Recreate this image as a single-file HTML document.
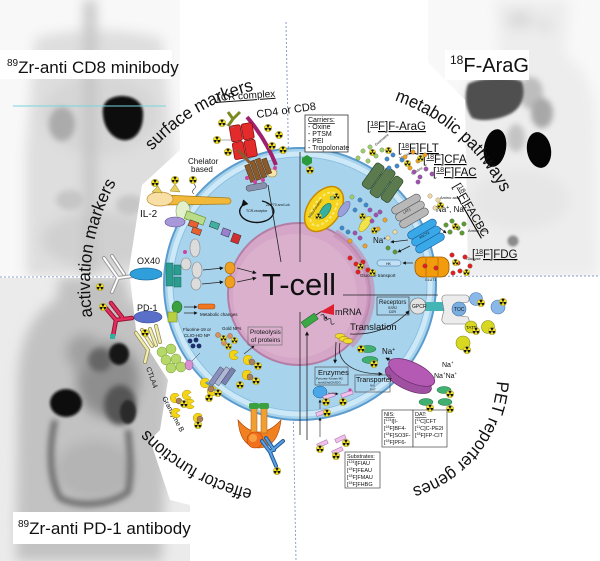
<!DOCTYPE html>
<html><head><meta charset="utf-8"><style>
html,body{margin:0;padding:0;background:#fff;width:600px;height:561px;overflow:hidden}
svg{display:block}
text{font-family:"Liberation Sans",Arial,sans-serif;fill:#111}
</style></head><body>
<svg xmlns="http://www.w3.org/2000/svg" width="600" height="561" viewBox="0 0 600 561">
<defs>
<filter id="b1" x="-30%" y="-30%" width="160%" height="160%"><feGaussianBlur stdDeviation="1.2"/></filter>
<filter id="b3" x="-30%" y="-30%" width="160%" height="160%"><feGaussianBlur stdDeviation="3"/></filter>
<filter id="b6" x="-30%" y="-30%" width="160%" height="160%"><feGaussianBlur stdDeviation="6"/></filter>
<clipPath id="cTL"><polygon points="0,0 180,0 180,150 142,185 128,276 0,276"/></clipPath>
<clipPath id="cBL"><polygon points="0,278 130,278 136,330 168,380 160,430 150,440 170,500 190,505 190,561 0,561"/></clipPath>
<clipPath id="cTR"><polygon points="428,0 600,0 600,276 468,276 465,100 428,62"/></clipPath>
<symbol id="r" viewBox="-5 -5 10 10"><circle r="4.8" fill="#f2e01e" stroke="#666" stroke-width=".4"/><path d="M0,0 L4,0 A4,4 0 0,1 2,3.46Z M0,0 L-2,3.46 A4,4 0 0,1 -4,0Z M0,0 L-2,-3.46 A4,4 0 0,1 2,-3.46Z" fill="#111"/><circle r="1.1" fill="#f2e01e"/><circle r=".7" fill="#111"/></symbol>
<symbol id="pac" viewBox="-5 -5 10 10"><path d="M0,0 L4.2,-2.6 A4.9,4.9 0 1,0 4.2,2.6Z" fill="#f5d412" stroke="#9a8000" stroke-width=".4"/></symbol>
<marker id="ah" viewBox="0 0 6 6" refX="5" refY="3" markerWidth="5" markerHeight="5" orient="auto"><path d="M0,0 L6,3 L0,6Z" fill="#111"/></marker>
<path id="pS" d="M152.1,150.8 A199,199 0 0,1 251.9,90.9" fill="none"/>
<path id="pA" d="M92.6,316.9 A210,210 0 0,1 116.3,182.2" fill="none"/>
<path id="pM" d="M394.5,100.4 A188.6,188.6 0 0,1 501.6,192.5" fill="none"/>
<path id="pE" d="M252.5,489.6 A211,211 0 0,1 146.9,429.2" fill="none"/>
<path id="pP" d="M496.8,381.1 A117,117 0 0,1 412.2,487.5" fill="none"/>
</defs>

<!-- top-left PET -->
<g clip-path="url(#cTL)">
<rect x="0" y="0" width="180" height="277" fill="#f8f8f8"/>
<g filter="url(#b6)">
<path d="M35,38 Q95,22 162,38 L174,150 L172,277 L26,277 L26,150Z" fill="#dedede"/>
<ellipse cx="100" cy="115" rx="58" ry="40" fill="#d6d6d6"/>
<ellipse cx="100" cy="240" rx="58" ry="28" fill="#d0d0d0"/>
<rect x="84" y="0" width="12" height="277" fill="#c4c4c4"/>
</g>
<g filter="url(#b3)"><ellipse cx="62" cy="124" rx="13" ry="17" fill="#ababab"/><ellipse cx="70" cy="200" rx="14" ry="10" fill="#c6c6c6"/><ellipse cx="130" cy="205" rx="14" ry="10" fill="#c6c6c6"/></g>
<path d="M108,100 C120,92 142,96 143,112 C144,130 135,142 122,140 C112,138 104,128 103,115 C102,108 104,103 108,100Z" fill="#070707" filter="url(#b1)"/>
</g>
<rect x="0" y="50" width="172" height="29" fill="#fff"/>
<text x="7" y="73" font-size="17"><tspan font-size="10" dy="-7">89</tspan><tspan dy="7">Zr-anti CD8 minibody</tspan></text>
<line x1="13" y1="106" x2="166" y2="106" stroke="#78d4df" stroke-width="1"/>

<!-- bottom-left PET -->
<g clip-path="url(#cBL)">
<rect x="0" y="277" width="200" height="284" fill="#ebebeb"/>
<g filter="url(#b6)">
<path d="M60,277 L125,277 L130,300 Q168,320 170,380 L162,561 L16,561 L18,380 Q20,320 56,300Z" fill="#c2c2c2"/>
<ellipse cx="108" cy="380" rx="32" ry="38" fill="#8e8e8e"/>
<ellipse cx="84" cy="352" rx="18" ry="18" fill="#a0a0a0"/>
<ellipse cx="95" cy="470" rx="40" ry="30" fill="#b4b4b4"/>
</g>
<g filter="url(#b3)">
<ellipse cx="120" cy="405" rx="16" ry="20" fill="#555"/>
<ellipse cx="100" cy="360" rx="12" ry="12" fill="#666"/>
<path d="M55,420 C48,450 50,480 60,498 C80,508 110,505 128,492 C132,470 130,450 128,430" fill="none" stroke="#6a6a6a" stroke-width="6"/>
</g>
<g filter="url(#b1)">
<ellipse cx="66" cy="403" rx="16" ry="14" fill="#0a0a0a"/>
<ellipse cx="119" cy="354" rx="10" ry="11" fill="#151515"/>
<ellipse cx="128" cy="412" rx="8" ry="12" fill="#2a2a2a"/>
</g>
</g>
<rect x="13" y="512" width="185" height="32" fill="#fff"/>
<text x="18" y="534" font-size="17"><tspan font-size="10" dy="-7">89</tspan><tspan dy="7">Zr-anti PD-1 antibody</tspan></text>

<!-- top-right PET -->
<g clip-path="url(#cTR)">
<rect x="428" y="0" width="172" height="277" fill="#f8f8f8"/>
<g filter="url(#b6)">
<path d="M495,0 L570,0 L565,55 Q592,70 596,120 L598,277 L455,277 L458,120 Q462,70 500,55Z" fill="#ededed"/>
<ellipse cx="520" cy="20" rx="14" ry="10" fill="#dcdcdc"/>
<ellipse cx="545" cy="25" rx="8" ry="8" fill="#e0e0e0"/>
<ellipse cx="520" cy="200" rx="50" ry="30" fill="#e6e6e6"/>
</g>
<g filter="url(#b3)">
<ellipse cx="531" cy="93" rx="12" ry="16" fill="#bdbdbd"/>
<ellipse cx="542" cy="113" rx="11" ry="15" fill="#a8a8a8"/>
<ellipse cx="516" cy="138" rx="9" ry="14" fill="#c4c4c4"/>
</g>
<path d="M468,84 C480,77 515,76 522,82 C526,95 522,108 510,114 C498,120 482,122 472,118 C465,108 464,94 468,84Z" fill="#505050" filter="url(#b1)"/>
<ellipse cx="495" cy="148" rx="11" ry="19" transform="rotate(10 495 148)" fill="#050505"/>
<ellipse cx="539" cy="150" rx="12" ry="18" transform="rotate(-10 539 150)" fill="#050505"/>
<circle cx="513" cy="241" r="5.5" fill="#8a8a8a" filter="url(#b1)"/>
</g>
<rect x="445" y="50" width="84" height="30" fill="#fff"/>
<text x="450" y="72" font-size="20"><tspan font-size="12" dy="-8">18</tspan><tspan dy="8">F-AraG</tspan></text>

<!-- dashed quadrant lines -->
<line x1="286" y1="22" x2="296" y2="561" stroke="#8a9cc8" stroke-width="1" stroke-dasharray="2,2"/>
<line x1="0" y1="277" x2="600" y2="276" stroke="#8a9cc8" stroke-width="1" stroke-dasharray="2,2"/>

<!-- curved labels -->
<text font-size="17.5"><textPath href="#pS" textLength="120" lengthAdjust="spacingAndGlyphs">surface markers</textPath></text>
<text font-size="17.5"><textPath href="#pA" textLength="139" lengthAdjust="spacingAndGlyphs">activation markers</textPath></text>
<text font-size="17.5"><textPath href="#pM" textLength="145" lengthAdjust="spacingAndGlyphs">metabolic pathways</textPath></text>
<text font-size="17.5"><textPath href="#pE" textLength="123" lengthAdjust="spacingAndGlyphs">effector functions</textPath></text>
<text font-size="17.5"><textPath href="#pP" textLength="145" lengthAdjust="spacingAndGlyphs">PET reporter genes</textPath></text>

<!-- cell -->
<circle cx="300" cy="284" r="136" fill="#a8d3ec" stroke="#5b9ccf" stroke-width="2"/>
<circle cx="300" cy="284" r="130" fill="none" stroke="#cde8f7" stroke-width="5"/>
<circle cx="300" cy="284" r="127" fill="none" stroke="#86bde0" stroke-width=".8"/>
<circle cx="299" cy="294" r="71" fill="#d5a6c7" stroke="#b37ea5" stroke-width="2"/>
<circle cx="295" cy="296" r="62" fill="#dab0cd"/>
<path d="M335,233 A71,71 0 0,1 350,345" fill="none" stroke="#c590b6" stroke-width="8" opacity=".7"/>
<text x="262" y="295" font-size="31">T-cell</text>

<!-- connector lines -->
<g stroke="#222" stroke-width=".8" fill="none">
<line x1="300" y1="152" x2="300" y2="262"/>
<line x1="268" y1="185" x2="281" y2="262"/>
<line x1="343" y1="295" x2="438" y2="295"/>
<line x1="300" y1="312" x2="300" y2="435"/>
<line x1="307" y1="440" x2="307" y2="332" marker-end="url(#ah)"/>
</g>

<!-- TCR complex -->
<text x="215" y="101" font-size="10" text-decoration="underline" transform="rotate(-4 215 101)">TCR complex</text>
<text x="257" y="118" font-size="11" transform="rotate(-8 257 118)">CD4 or CD8</text>
<path d="M247,117 C258,130 268,145 276,165" fill="none" stroke="#a0206e" stroke-width="4"/>
<ellipse cx="272" cy="173" rx="5" ry="4" fill="#f5e4a8" stroke="#a08040" stroke-width=".6"/>
<g transform="rotate(-10 244 142)" stroke="#8a1010" stroke-width=".8" fill="#e32b2b">
<rect x="232" y="124" width="11" height="16" rx="2"/><rect x="244" y="124" width="11" height="16" rx="2"/>
<rect x="232" y="141" width="11" height="17" rx="2"/><rect x="244" y="141" width="11" height="17" rx="2"/>
</g>
<path d="M228,126 L233,119 L228,112 M233,119 L240,112" stroke="#7a8a20" stroke-width="3" fill="none"/>
<g stroke="#777" stroke-width=".6"><line x1="222" y1="123" x2="234" y2="128"/><line x1="217" y1="140" x2="233" y2="140"/><line x1="228" y1="152" x2="236" y2="150"/></g>
<g fill="#8b5a2b" stroke="#4a2a10" stroke-width=".5" transform="rotate(-20 259 170)">
<rect x="247" y="161" width="5" height="18"/><rect x="253" y="159" width="5" height="20"/><rect x="259" y="159" width="5" height="20"/><rect x="265" y="161" width="5" height="16"/>
</g>
<path d="M238,150 L250,163" stroke="#8b5a2b" stroke-width="3"/>
<g fill="#d040a0"><circle cx="255" cy="182" r="2"/><circle cx="263" cy="180" r="2"/><circle cx="247" cy="178" r="2"/><circle cx="275" cy="168" r="2"/></g>
<rect x="246" y="184" width="21" height="6" rx="3" fill="#8890b0" stroke="#444" stroke-width=".5" transform="rotate(-10 256 187)"/>
<path d="M242,206 A17,11 0 1,0 262,201" fill="none" stroke="#111" stroke-width="1.4" marker-start="url(#ah)"/>
<text x="246" y="212" font-size="3.5">TCR-receptor</text>
<text x="266" y="206" font-size="3.5">ZAP70 and Lck</text>
<text x="188" y="164" font-size="8" fill="#333">Chelator</text>
<text x="191" y="172" font-size="8" fill="#333">based</text>
<path d="M194,184 q3,3 0,5 q-3,3 0,5" fill="none" stroke="#333" stroke-width=".6"/>

<!-- IL-2 -->
<path d="M165,195 L229,198 Q233,201 229,204 L165,205Z" fill="#f2b83a" stroke="#a87a10" stroke-width=".7"/>
<ellipse cx="160" cy="199" rx="13" ry="7" fill="#f8dfa5" stroke="#c09030" stroke-width=".7"/>
<path d="M152,192 L158,186 L162,193Z M170,191 L175,184 L180,192Z" fill="#e8d060" stroke="#908020" stroke-width=".5"/>
<text x="140" y="217" font-size="10">IL-2</text>
<ellipse cx="183" cy="211" rx="7" ry="10" fill="#e2f1cc" stroke="#8aa060" stroke-width=".6"/>
<rect x="185" y="214" width="20" height="8" fill="#b8dc88" stroke="#6a8a30" stroke-width=".6" transform="rotate(20 195 218)"/>
<ellipse cx="175" cy="222" rx="10" ry="5" fill="#a898d8" stroke="#5a4a9a" stroke-width=".6"/>
<g stroke-width=".5" stroke="#333">
<rect x="189" y="221" width="9" height="6" fill="#e86030" transform="rotate(20 193 224)"/>
<rect x="192" y="228" width="9" height="6" fill="#e86030" transform="rotate(20 196 231)"/>
<rect x="210" y="222" width="9" height="6" fill="#40b0a0" transform="rotate(20 214 225)"/>
<rect x="222" y="229" width="8" height="7" fill="#9a80d0" transform="rotate(20 226 232)"/>
<rect x="232" y="234" width="8" height="9" fill="#d03030" transform="rotate(20 236 238)"/>
</g>

<!-- OX40 -->
<g fill="none" stroke-linecap="round">
<path d="M104,258 L118,278 L112,292 M112,256 L124,274 M118,278 L133,276" stroke="#9a9a9a" stroke-width="4"/>
<path d="M104,258 L118,278 L112,292 M112,256 L124,274 M118,278 L133,276" stroke="#fff" stroke-width="2"/>
</g>
<ellipse cx="146" cy="274" rx="16" ry="6" fill="#2f9fdc" stroke="#1a6fa0" stroke-width=".7"/>
<text x="137" y="264" font-size="9">OX40</text>
<g fill="#2a9d8f" stroke="#15655c" stroke-width=".5"><rect x="166" y="263" width="7" height="23"/><rect x="174" y="265" width="7" height="10"/><rect x="174" y="277" width="7" height="10"/></g>
<circle cx="185" cy="252" r="2" fill="#d040a0"/>
<g fill="#dcdcdc" stroke="#888" stroke-width=".6"><ellipse cx="186" cy="264" rx="5" ry="6"/><ellipse cx="195" cy="248" rx="5" ry="9"/><ellipse cx="197" cy="270" rx="5" ry="8"/><ellipse cx="196" cy="284" rx="5" ry="6"/></g>
<g fill="#f0a020" stroke="#a06000" stroke-width=".6"><ellipse cx="230" cy="268" rx="5" ry="6"/><ellipse cx="230" cy="282" rx="5" ry="6"/></g>
<g stroke="#222" stroke-width=".8" marker-end="url(#ah)"><line x1="203" y1="270" x2="223" y2="268"/><line x1="202" y1="284" x2="223" y2="282"/><line x1="237" y1="268" x2="256" y2="273"/><line x1="237" y1="282" x2="256" y2="278"/></g>

<!-- PD-1 -->
<g fill="none" stroke-linecap="round">
<path d="M104,306 L116,320 L113,336 M111,303 L122,317 M116,320 L132,318" stroke="#9a1030" stroke-width="4.5"/>
<path d="M104,306 L116,320 L113,336 M111,303 L122,317 M116,320 L132,318" stroke="#e03060" stroke-width="2.5"/>
</g>
<rect x="110" y="334" width="5" height="5" fill="#30b0a0"/>
<text x="137" y="311" font-size="9">PD-1</text>
<ellipse cx="148" cy="317" rx="14" ry="6" fill="#5a6fc8" stroke="#344a9a" stroke-width=".6"/>
<ellipse cx="177" cy="307" rx="5" ry="6" fill="#3aa040" stroke="#1a6020" stroke-width=".5"/>
<rect x="168" y="312" width="9" height="10" fill="#b8d040" stroke="#708020" stroke-width=".5"/>
<g stroke="#222" stroke-width=".7" marker-end="url(#ah)"><line x1="184" y1="307" x2="197" y2="307"/><line x1="184" y1="313" x2="197" y2="313"/></g>
<rect x="198" y="304" width="17" height="5" rx="2" fill="#f07820" stroke="#a04000" stroke-width=".5"/>
<text x="200" y="316" font-size="4.5">Metabolic changes</text>
<text x="183" y="331" font-size="4.5">Fluorine-19 or</text>
<text x="184" y="337" font-size="4.5">CLIO-HD NP</text>
<g fill="#1e2e6a"><circle cx="190" cy="341" r="2.4"/><circle cx="196" cy="340" r="2.4"/><circle cx="193" cy="346" r="2.4"/><circle cx="199" cy="346" r="2.4"/></g>
<text x="222" y="330" font-size="4.5">Gold NPs</text>
<g fill="#d89060" stroke="#805030" stroke-width=".4"><circle cx="218" cy="335" r="2.5"/><circle cx="230" cy="336" r="2.5"/><circle cx="224" cy="343" r="2.5"/></g>
<rect x="248" y="327" width="34" height="18" fill="none" stroke="#666" stroke-width=".6"/>
<text x="250" y="334" font-size="6.3">Proteolysis</text>
<text x="251" y="342" font-size="6.3">of proteins</text>
<line x1="244" y1="354" x2="254" y2="346" stroke="#222" stroke-width=".6" marker-end="url(#ah)"/>

<!-- CTLA4 -->
<g fill="none" stroke-linecap="round">
<path d="M136,333 L148,350 L145,362 M142,330 L152,346 M150,329 L156,345 M156,326 L160,342" stroke="#9a9460" stroke-width="4"/>
<path d="M136,333 L148,350 L145,362 M142,330 L152,346 M150,329 L156,345 M156,326 L160,342" stroke="#f4edb0" stroke-width="2.3"/>
</g>
<g fill="#b5d86a" stroke="#7a9a30" stroke-width=".5"><circle cx="162" cy="352" r="5"/><circle cx="171" cy="349" r="5"/><circle cx="166" cy="360" r="5"/><circle cx="176" cy="359" r="5"/><circle cx="171" cy="368" r="5"/><circle cx="181" cy="367" r="5"/></g>
<ellipse cx="189" cy="365" rx="4" ry="5" fill="#d890d0" stroke="#905090" stroke-width=".5"/>
<line x1="192" y1="361" x2="200" y2="353" stroke="#333" stroke-width=".5"/>
<text x="146" y="368" font-size="7" transform="rotate(70 146 368)">CTLA4</text>

<!-- Granzyme B -->
<text x="162" y="398" font-size="7" transform="rotate(62 162 398)">Granzyme B</text>
<use href="#pac" x="170" y="393" width="10" height="10"/>
<use href="#pac" x="182" y="390" width="10" height="10"/>
<use href="#pac" x="185" y="399" width="10" height="10"/>
<use href="#pac" x="193" y="413" width="10" height="10"/>
<use href="#pac" x="171" y="408" width="10" height="10"/>
<use href="#pac" x="200" y="378" width="10" height="10"/>
<use href="#pac" x="207" y="386" width="10" height="10"/>
<use href="#pac" x="229" y="350" width="10" height="10"/>
<use href="#pac" x="243" y="355" width="10" height="10"/>
<use href="#pac" x="242" y="370" width="10" height="10"/>
<g fill="#a88060" stroke="#604020" stroke-width=".4"><circle cx="179" cy="401" r="3"/><circle cx="200" cy="419" r="3"/><circle cx="211" cy="389" r="3"/><circle cx="252" cy="362" r="3"/><circle cx="250" cy="377" r="3"/></g>
<g stroke="#333" stroke-width=".4"><rect x="214" y="366" width="5" height="20" fill="#8a90c0" transform="rotate(35 216 376)"/><rect x="220" y="366" width="5" height="20" fill="#b0b8d8" transform="rotate(35 222 376)"/><rect x="226" y="367" width="5" height="18" fill="#7a80b0" transform="rotate(35 228 376)"/></g>

<!-- Fas / bottom receptor -->
<path d="M238,420 Q240,447 259,448 Q278,447 281,420 Q270,432 259,432 Q248,432 238,420Z" fill="#f08020" stroke="#b04000" stroke-width=".6"/>
<rect x="251" y="408" width="6" height="25" fill="#f0a030" stroke="#b05010" stroke-width=".5"/>
<rect x="261" y="408" width="6" height="25" fill="#f0a030" stroke="#b05010" stroke-width=".5"/>
<rect x="249" y="403" width="10" height="6" rx="2" fill="#3aa040"/>
<rect x="259" y="403" width="10" height="6" rx="2" fill="#3aa040"/>
<circle cx="255" cy="440" r="8" fill="#f07020" stroke="#c04000" stroke-width=".6"/>
<circle cx="253" cy="438" r="4" fill="#f6a040"/>
<g fill="none" stroke-linecap="round">
<path d="M262,441 L270,452 L276,466 M270,452 L283,441 M266,438 L274,450" stroke="#1f5a9a" stroke-width="4"/>
<path d="M262,441 L270,452 L276,466 M270,452 L283,441 M266,438 L274,450" stroke="#5aa0e0" stroke-width="2"/>
</g>

<!-- metabolic: carriers -->
<rect x="305" y="115" width="43" height="37" fill="#fff" stroke="#333" stroke-width=".8"/>
<g font-size="7"><text x="308" y="122" text-decoration="underline">Carriers:</text><text x="308" y="129">- Oxine</text><text x="308" y="136">- PTSM</text><text x="308" y="143">- PEI</text><text x="308" y="150">- Tropolonate</text></g>
<polygon points="307,155 312,158 312,163 307,166 302,163 302,158" fill="#2a9a3a"/>

<!-- mitochondrion -->
<ellipse cx="324" cy="209" rx="25" ry="16" transform="rotate(-55 324 209)" fill="#f6d31c" stroke="#c88a00" stroke-width="1.5"/>
<ellipse cx="324" cy="209" rx="19" ry="10" transform="rotate(-55 324 209)" fill="none" stroke="#fbe97a" stroke-width="2" stroke-dasharray="3,2"/>
<ellipse cx="325" cy="211" rx="9" ry="4" transform="rotate(-55 325 211)" fill="#35b0a0" stroke="#1a7060" stroke-width=".6"/>
<text x="310" y="218" font-size="3.5" transform="rotate(-55 310 218)">Mitochondrion</text>

<!-- ENT dark green -->
<g transform="rotate(35 383 183)" fill="#5b7a4e" stroke="#2e4a28" stroke-width=".7">
<rect x="366" y="169" width="10" height="28" rx="3"/><rect x="377" y="167" width="11" height="32" rx="3"/><rect x="389" y="169" width="10" height="28" rx="3"/>
</g>
<ellipse cx="344" cy="209" rx="9" ry="4" transform="rotate(-55 344 209)" fill="#9aa0d8" stroke="#5a60a0" stroke-width=".5"/>
<ellipse cx="365" cy="224" rx="9" ry="4" transform="rotate(-55 365 224)" fill="#f0e448" stroke="#a09020" stroke-width=".5"/>

<!-- LAT1, ASCT2 -->
<g transform="rotate(-30 410 211)" fill="#b8b8b8" stroke="#555" stroke-width=".6">
<rect x="394" y="199" width="32" height="8" rx="4"/><rect x="394" y="207" width="32" height="8" rx="4"/><rect x="394" y="215" width="32" height="8" rx="4"/>
</g>
<text x="404" y="214" font-size="3.5" transform="rotate(-30 404 214)">LAT1</text>
<g transform="rotate(-30 426 236)" fill="#38a8e8" stroke="#1a5a90" stroke-width=".6">
<rect x="410" y="224" width="32" height="8" rx="4"/><rect x="410" y="232" width="32" height="8" rx="4"/><rect x="410" y="240" width="32" height="8" rx="4"/>
</g>
<text x="420" y="239" font-size="3.5" transform="rotate(-30 420 239)">ASCT2</text>
<text x="436" y="212" font-size="8">Na<tspan font-size="5" dy="-3">+</tspan><tspan dy="3">, Na</tspan><tspan font-size="5" dy="-3">+</tspan></text>
<text x="373" y="243" font-size="8">Na<tspan font-size="5" dy="-3">+</tspan></text>
<g stroke="#222" stroke-width=".7" marker-end="url(#ah)"><line x1="408" y1="240" x2="391" y2="242"/><line x1="410" y1="246" x2="398" y2="252"/><line x1="440" y1="228" x2="446" y2="233"/></g>
<text x="440" y="199" font-size="4">Amino acid</text>
<text x="468" y="232" font-size="4">Amino acid</text>
<text x="376" y="146" font-size="3.5" transform="rotate(-40 376 146)">Guanosine</text>
<text x="400" y="160" font-size="3.5" transform="rotate(-30 400 160)">Thymidine</text>
<text x="412" y="175" font-size="3.5" transform="rotate(-30 412 175)">Cytidine</text>

<!-- GLUT1 / HK -->
<rect x="415" y="257" width="34" height="20" rx="8" fill="#f29b0c" stroke="#a05a00" stroke-width=".8"/>
<g stroke="#a05a00" stroke-width=".6"><line x1="426" y1="258" x2="426" y2="276"/><line x1="438" y1="258" x2="438" y2="276"/></g>
<text x="425" y="281" font-size="3.5">GLUT1</text>
<rect x="377" y="260" width="24" height="6" rx="3" fill="#bfe0f6" stroke="#3a6a9a" stroke-width=".5"/>
<text x="386" y="265" font-size="3.5">HK</text>
<line x1="413" y1="263" x2="403" y2="263" stroke="#222" stroke-width=".7" marker-end="url(#ah)"/>
<text x="360" y="277" font-size="4.5">Glucose transport</text>
<text x="466" y="260" font-size="4">Glucose</text>

<!-- metabolic labels -->
<g font-size="11.5" text-decoration="underline">
<text x="367" y="130">[<tspan font-size="7" dy="-4">18</tspan><tspan dy="4">F]F-AraG</tspan></text>
<text x="398" y="152">[<tspan font-size="7" dy="-4">18</tspan><tspan dy="4">F]FLT</tspan></text>
<text x="423" y="163">[<tspan font-size="7" dy="-4">18</tspan><tspan dy="4">F]CFA</tspan></text>
<text x="433" y="176">[<tspan font-size="7" dy="-4">18</tspan><tspan dy="4">F]FAC</tspan></text>
<text x="453" y="186" transform="rotate(60 453 186)">[<tspan font-size="7" dy="-4">18</tspan><tspan dy="4">F]FACBC</tspan></text>
<text x="472" y="258">[<tspan font-size="7" dy="-4">18</tspan><tspan dy="4">F]FDG</tspan></text>
</g>

<!-- molecule dots -->
<g stroke="#555" stroke-width=".3">
<g fill="#9ccf6a"><circle cx="363" cy="151" r="2.2"/><circle cx="370" cy="147" r="2.2"/><circle cx="376" cy="156" r="2.2"/><circle cx="382" cy="150" r="2.2"/><circle cx="358" cy="158" r="2.2"/><circle cx="368" cy="161" r="2.2"/><circle cx="352" cy="197" r="2.2"/><circle cx="332" cy="198" r="2"/></g>
<g fill="#3a8ad0"><circle cx="387" cy="159" r="2.2"/><circle cx="393" cy="155" r="2.2"/><circle cx="397" cy="166" r="2.2"/><circle cx="402" cy="160" r="2.2"/><circle cx="389" cy="168" r="2.2"/><circle cx="360" cy="200" r="2.2"/><circle cx="366" cy="205" r="2.2"/><circle cx="355" cy="210" r="2.2"/><circle cx="342" cy="228" r="2.2"/><circle cx="348" cy="232" r="2.2"/></g>
<g fill="#f0a020"><circle cx="405" cy="157" r="2.2"/><circle cx="413" cy="152" r="2.2"/><circle cx="418" cy="161" r="2.2"/><circle cx="425" cy="155" r="2.2"/><circle cx="410" cy="168" r="2.2"/><circle cx="385" cy="220" r="2.2"/><circle cx="378" cy="229" r="2.2"/><circle cx="350" cy="241" r="2.2"/><circle cx="365" cy="246" r="2.2"/></g>
<g fill="#a050b0"><circle cx="414" cy="172" r="2.2"/><circle cx="420" cy="177" r="2.2"/><circle cx="426" cy="169" r="2.2"/><circle cx="432" cy="174" r="2.2"/><circle cx="418" cy="182" r="2.2"/><circle cx="370" cy="210" r="2.2"/><circle cx="376" cy="215" r="2.2"/><circle cx="372" cy="221" r="2.2"/><circle cx="380" cy="212" r="2.2"/><circle cx="355" cy="233" r="2.2"/><circle cx="360" cy="238" r="2.2"/></g>
<g fill="#f2d9a0"><circle cx="430" cy="196" r="2.2"/><circle cx="438" cy="200" r="2.2"/><circle cx="435" cy="208" r="2.2"/><circle cx="395" cy="232" r="2.2"/><circle cx="388" cy="238" r="2.2"/></g>
<g fill="#5a9a30"><circle cx="446" cy="225" r="2.3"/><circle cx="452" cy="221" r="2.3"/><circle cx="458" cy="228" r="2.3"/><circle cx="464" cy="224" r="2.3"/><circle cx="450" cy="232" r="2.3"/><circle cx="462" cy="233" r="2.3"/><circle cx="388" cy="248" r="2.2"/><circle cx="395" cy="252" r="2.2"/></g>
<g fill="#e02020"><circle cx="350" cy="258" r="2.3"/><circle cx="356" cy="264" r="2.3"/><circle cx="363" cy="262" r="2.3"/><circle cx="368" cy="270" r="2.3"/><circle cx="358" cy="272" r="2.3"/><circle cx="452" cy="255" r="2.3"/><circle cx="458" cy="263" r="2.3"/><circle cx="465" cy="257" r="2.3"/><circle cx="460" cy="271" r="2.3"/><circle cx="470" cy="266" r="2.3"/><circle cx="453" cy="273" r="2.3"/><circle cx="425" cy="266" r="2.3"/><circle cx="436" cy="268" r="2.3"/></g>
</g>

<!-- PET reporter genes -->
<rect x="302" y="317" width="16" height="7" fill="#3aa845" stroke="#1a6020" stroke-width=".5" transform="rotate(-35 310 321)"/>
<line x1="316" y1="315" x2="322" y2="311" stroke="#222" stroke-width=".8"/>
<polygon points="320,312 334,304 334,315" fill="#e02030"/>
<text x="335" y="315" font-size="9">mRNA</text>
<path d="M318,319 q2,-4 4,0 t4,0 t4,0 t4,0" fill="none" stroke="#333" stroke-width=".8" transform="rotate(30 326 322)"/>
<line x1="323" y1="314" x2="327" y2="319" stroke="#222" stroke-width=".6" marker-end="url(#ah)"/>
<g fill="#f0dc30" stroke="#8a7a00" stroke-width=".5"><ellipse cx="340" cy="336" rx="5" ry="2.5"/><ellipse cx="344" cy="339" rx="5" ry="2.5"/><ellipse cx="348" cy="341" rx="5" ry="2.5"/></g>
<text x="350" y="330" font-size="9.5">Translation</text>
<g fill="none" stroke="#222" stroke-width=".8" marker-end="url(#ah)">
<path d="M350,334 Q385,336 409,311"/>
<path d="M336,342 L335,363"/>
<path d="M340,343 C336,360 350,374 382,374"/>
<path d="M392,361 L386,358"/>
</g>
<rect x="377" y="297" width="32" height="18" fill="none" stroke="#333" stroke-width=".6"/>
<text x="379" y="304" font-size="6">Receptors</text>
<text x="388" y="309" font-size="3.5">SSR2</text>
<text x="389" y="313" font-size="3.5">D2R</text>
<rect x="425" y="302" width="22" height="9" fill="#44b4b4"/>
<circle cx="418" cy="306" r="8" fill="#e2e2e2" stroke="#666" stroke-width=".6"/>
<text x="412" y="308" font-size="5">GPCR</text>
<path d="M445,295 L466,295 Q471,297 468,302 L461,303 L461,316 L468,317 Q471,323 466,324 L445,324 Q441,322 442,318 L444,310 L442,300 Q441,296 445,295Z" fill="#ececec" stroke="#777" stroke-width=".6"/>
<circle cx="459" cy="309" r="7" fill="#7aaee0" stroke="#3a6aa0" stroke-width=".6"/>
<text x="454" y="311" font-size="5">TOC</text>
<g fill="#8ab8e8" stroke="#4a78b0" stroke-width=".6"><circle cx="476" cy="299" r="6.5"/><circle cx="498" cy="307" r="7"/></g>
<g fill="#d8d820" stroke="#8a8a10" stroke-width=".6"><circle cx="471" cy="327" r="6"/><circle cx="488" cy="327" r="6.5"/><circle cx="463" cy="343" r="7"/></g>
<text x="466" y="329" font-size="4.5">TATE</text>
<g fill="#40b070" stroke="#1a6a3a" stroke-width=".5"><ellipse cx="368" cy="349" rx="8" ry="3.5"/><ellipse cx="370" cy="360" rx="8" ry="3.5"/><ellipse cx="444" cy="390" rx="7" ry="3.5"/><ellipse cx="426" cy="402" rx="7" ry="3.5"/><ellipse cx="445" cy="402" rx="7" ry="3.5"/></g>
<text x="382" y="354" font-size="8">Na<tspan font-size="5" dy="-3">+</tspan></text>
<g transform="rotate(25 410 376)" stroke="#6a2a6a" stroke-width=".7">
<ellipse cx="410" cy="380" rx="25" ry="10" fill="#a050a0"/>
<ellipse cx="410" cy="372" rx="25" ry="10" fill="#b45ab4"/>
</g>
<text x="442" y="367" font-size="7">Na<tspan font-size="4.5" dy="-3">+</tspan></text>
<text x="434" y="378" font-size="7">Na<tspan font-size="4.5" dy="-3">+</tspan><tspan dy="3">Na</tspan><tspan font-size="4.5" dy="-3">+</tspan></text>
<rect x="315" y="367" width="33" height="18" fill="none" stroke="#444" stroke-width=".6"/>
<text x="318" y="375" font-size="7.5">Enzymes</text>
<text x="316" y="379.5" font-size="3">Pyruvate Kinase M2</text>
<text x="318" y="383.5" font-size="3">hmtk2/hdCK/IDO</text>
<rect x="355" y="375" width="35" height="17" fill="none" stroke="#444" stroke-width=".6"/>
<text x="356" y="382" font-size="7">Transporter</text>
<text x="370" y="386.5" font-size="3">NIS</text>
<text x="370" y="390.5" font-size="3">DAT</text>
<ellipse cx="320" cy="392" rx="7" ry="6" fill="#4aa8e8" stroke="#1a5a90" stroke-width=".5"/>
<g fill="#eec0ea" stroke="#905090" stroke-width=".4">
<rect x="323" y="394" width="12" height="4" transform="rotate(-20 329 396)"/>
<rect x="341" y="392" width="12" height="4" transform="rotate(-20 347 394)"/>
<rect x="316" y="411" width="11" height="4" transform="rotate(-20 321 413)"/>
<rect x="317" y="442" width="11" height="4" transform="rotate(-25 322 444)"/>
<rect x="335" y="437" width="11" height="4" transform="rotate(-25 340 439)"/>
<rect x="332" y="449" width="11" height="4" transform="rotate(-25 337 451)"/>
</g>
<circle cx="350" cy="390" r="1.6" fill="#d040a0"/>
<g stroke="#222" stroke-width=".6" marker-end="url(#ah)"><line x1="328" y1="393" x2="338" y2="394"/><line x1="320" y1="437" x2="320" y2="418"/><line x1="320" y1="409" x2="320" y2="400"/></g>

<!-- NIS / DAT / Substrates boxes -->
<rect x="382" y="410" width="31" height="37" fill="#fff" stroke="#444" stroke-width=".7"/>
<rect x="413" y="410" width="34" height="37" fill="#fff" stroke="#444" stroke-width=".7"/>
<g font-size="5.5">
<text x="384" y="416" text-decoration="underline">NIS:</text>
<text x="384" y="423">[<tspan font-size="3.5" dy="-2">124</tspan><tspan dy="2">I]I-</tspan></text>
<text x="384" y="430">[<tspan font-size="3.5" dy="-2">18</tspan><tspan dy="2">F]BF4-</tspan></text>
<text x="384" y="437">[<tspan font-size="3.5" dy="-2">18</tspan><tspan dy="2">F]SO3F-</tspan></text>
<text x="384" y="444">[<tspan font-size="3.5" dy="-2">18</tspan><tspan dy="2">F]PF6-</tspan></text>
<text x="415" y="416" text-decoration="underline">DAT:</text>
<text x="415" y="423">[<tspan font-size="3.5" dy="-2">11</tspan><tspan dy="2">C]CFT</tspan></text>
<text x="415" y="430">[<tspan font-size="3.5" dy="-2">11</tspan><tspan dy="2">C]C-PE2I</tspan></text>
<text x="415" y="437">[<tspan font-size="3.5" dy="-2">18</tspan><tspan dy="2">F]FP-CIT</tspan></text>
</g>
<rect x="345" y="452" width="35" height="36" fill="#fff" stroke="#444" stroke-width=".7"/>
<g font-size="5.5">
<text x="347" y="458" text-decoration="underline">Substrates:</text>
<text x="347" y="465">[<tspan font-size="3.5" dy="-2">124</tspan><tspan dy="2">I]FIAU</tspan></text>
<text x="347" y="472">[<tspan font-size="3.5" dy="-2">18</tspan><tspan dy="2">F]FEAU</tspan></text>
<text x="347" y="479">[<tspan font-size="3.5" dy="-2">18</tspan><tspan dy="2">F]FMAU</tspan></text>
<text x="347" y="486">[<tspan font-size="3.5" dy="-2">18</tspan><tspan dy="2">F]FHBG</tspan></text>
</g>

<!-- radioactive labels -->
<g>
<use href="#r" x="218" y="119" width="8" height="8"/><use href="#r" x="213" y="136" width="8" height="8"/><use href="#r" x="224" y="148" width="8" height="8"/>
<use href="#r" x="264" y="124" width="8" height="8"/><use href="#r" x="275" y="131" width="8" height="8"/><use href="#r" x="268" y="142" width="8" height="8"/><use href="#r" x="279" y="146" width="8" height="8"/>
<use href="#r" x="151" y="179" width="8" height="8"/><use href="#r" x="171" y="176" width="8" height="8"/><use href="#r" x="189" y="176" width="8" height="8"/>
<use href="#r" x="96" y="283" width="8" height="8"/><use href="#r" x="99" y="303" width="8" height="8"/><use href="#r" x="141" y="329" width="8" height="8"/>
<use href="#r" x="220" y="335" width="7" height="7"/><use href="#r" x="231" y="337" width="7" height="7"/><use href="#r" x="225" y="343" width="7" height="7"/>
<use href="#r" x="180" y="400" width="8" height="8"/><use href="#r" x="194" y="421" width="8" height="8"/><use href="#r" x="205" y="394" width="8" height="8"/><use href="#r" x="214" y="389" width="8" height="8"/>
<use href="#r" x="254" y="362" width="8" height="8"/><use href="#r" x="252" y="377" width="8" height="8"/><use href="#r" x="236" y="381" width="8" height="8"/><use href="#r" x="273" y="467" width="8" height="8"/>
<use href="#r" x="306" y="166" width="8" height="8"/><use href="#r" x="369" y="149" width="7" height="7"/><use href="#r" x="385" y="147" width="7" height="7"/><use href="#r" x="404" y="160" width="7" height="7"/><use href="#r" x="417" y="155" width="7" height="7"/>
<use href="#r" x="437" y="202" width="7" height="7"/><use href="#r" x="452" y="223" width="7" height="7"/><use href="#r" x="359" y="213" width="7" height="7"/><use href="#r" x="371" y="227" width="7" height="7"/>
<use href="#r" x="452" y="259" width="7" height="7"/><use href="#r" x="463" y="269" width="7" height="7"/><use href="#r" x="357" y="263" width="7" height="7"/><use href="#r" x="369" y="269" width="7" height="7"/>
<use href="#r" x="333" y="193" width="7" height="7"/><use href="#r" x="315" y="213" width="7" height="7"/>
<use href="#r" x="477" y="299" width="8" height="8"/><use href="#r" x="499" y="298" width="8" height="8"/><use href="#r" x="472" y="327" width="8" height="8"/><use href="#r" x="488" y="327" width="8" height="8"/><use href="#r" x="463" y="346" width="8" height="8"/>
<use href="#r" x="357" y="345" width="8" height="8"/><use href="#r" x="370" y="360" width="8" height="8"/><use href="#r" x="446" y="390" width="8" height="8"/><use href="#r" x="426" y="404" width="8" height="8"/><use href="#r" x="446" y="405" width="8" height="8"/>
<use href="#r" x="322" y="398" width="8" height="8"/><use href="#r" x="339" y="398" width="8" height="8"/><use href="#r" x="323" y="409" width="8" height="8"/>
<use href="#r" x="316" y="445" width="8" height="8"/><use href="#r" x="342" y="439" width="8" height="8"/><use href="#r" x="332" y="452" width="8" height="8"/>
</g>
</svg>
</body></html>
